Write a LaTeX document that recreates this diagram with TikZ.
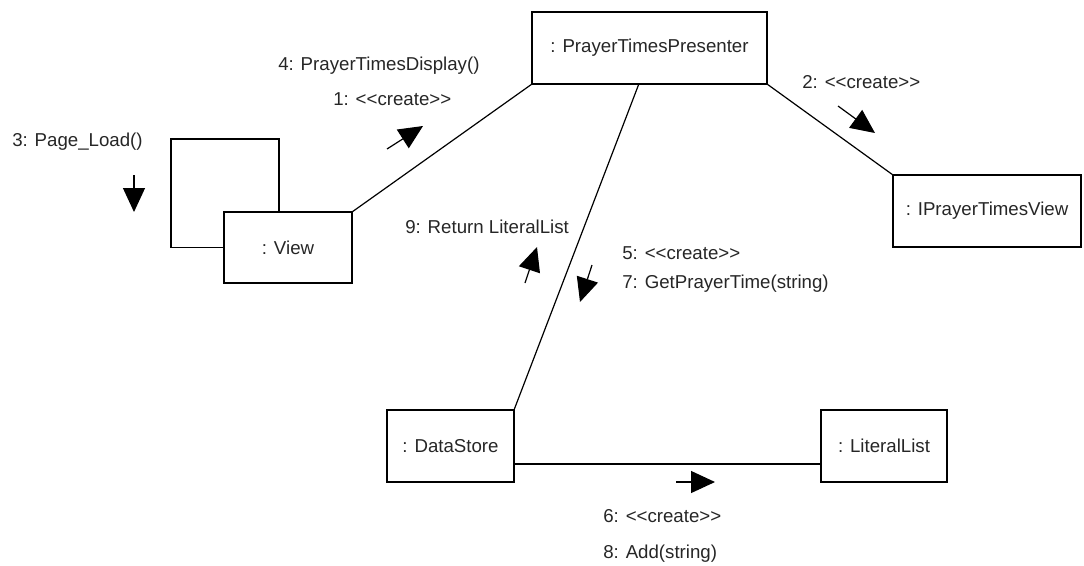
\documentclass[tikz,border=0pt]{standalone}
\usepackage{fontspec}
\newfontfamily\umlfont{Liberation Sans}
\usetikzlibrary{arrows.meta}
\begin{document}
\begin{tikzpicture}[x=0.75pt,y=-0.75pt,
  txt/.style={font=\umlfont\fontsize{14}{16}\selectfont, text=black!85},
  obj/.style={txt, draw, line width=1.1pt, outer sep=0pt, inner sep=0pt, anchor=north west},
  lab/.style={txt, anchor=west, inner sep=0pt, text height=10pt, text depth=0pt},
  link/.style={line width=0.9pt},
  msg/.style={line width=0.9pt, -{Triangle[length=18pt,width=16.5pt]}}]
\useasboundingbox (0,0) rectangle (1084,565);
% objects
\node[obj, minimum width=176.25pt, minimum height=54pt] (P) at (532,12) {: PrayerTimesPresenter};
\node[obj, minimum width=96pt, minimum height=53.25pt] (V) at (224,212) {: View};
\node[obj, minimum width=141pt, minimum height=54pt] (I) at (893,175) {: IPrayerTimesView};
\node[obj, minimum width=95.25pt, minimum height=54pt] (D) at (387,410) {: DataStore};
\node[obj, minimum width=94.5pt, minimum height=54pt] (L) at (821,410) {: LiteralList};
% links
\draw[link] (V.north east) -- (P.south west);
\draw[link] (P.south east) -- (I.north west);
\draw[link] ([xshift=-8pt]P.south) -- (D.north east);
\draw[link] ([yshift=-13.5pt]D.east) -- ([yshift=-13.5pt]L.west);
\draw[link] ([xshift=41.25pt]V.north west) -- ++(0,-73) -- ++(-108,0) |- (V.west);
% message arrows
\draw[msg] (387,149) -- (423,126);
\draw[msg] (838,106) -- (875,133);
\draw[msg] (134,175) -- (134,212);
\draw[msg] (525,283) -- (537,247);
\draw[msg] (592,265) -- (580,302);
\draw[msg] (676,482) -- (715,482);
% labels
\node[lab] (l4) at (278,64) {4: PrayerTimesDisplay()};
\node[lab] (l1) at (333,99) {1: <<create>>};
\node[lab] (l2) at (802,82) {2: <<create>>};
\node[lab] (l3) at (12,140) {3: Page\_Load()};
\node[lab] (l9) at (405,227) {9: Return LiteralList};
\node[lab] (l5) at (622,253) {5: <<create>>};
\node[lab] (l7) at (622,282) {7: GetPrayerTime(string)};
\node[lab] (l6) at (603,516) {6: <<create>>};
\node[lab] (l8) at (603,552) {8: Add(string)};
\end{tikzpicture}
\end{document}
